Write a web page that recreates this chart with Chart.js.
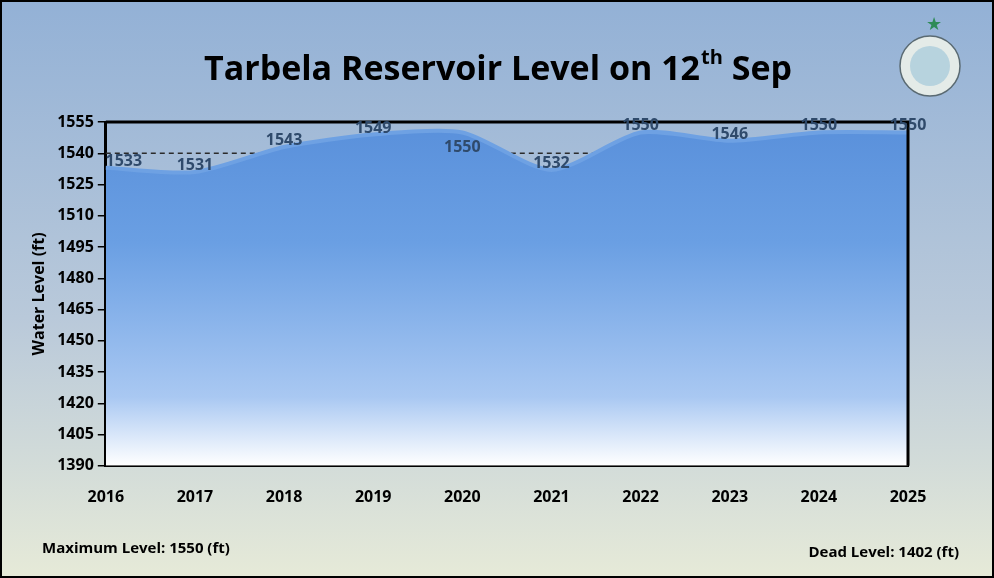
<!DOCTYPE html>
<html>
<head>
<meta charset="utf-8">
<script src="https://cdn.jsdelivr.net/npm/chart.js@4"></script>
<style>
  html, body { margin: 0; padding: 0; }
  #wrap { width: 990px; height: 574px; border: 2px solid #000;
    background: linear-gradient(to bottom, #93b1d6 0%, #b9c9da 55%, #e6ead8 100%); }
</style>
</head>
<body>
<div id="wrap"><canvas id="chart" width="990" height="574"></canvas></div>
<script>
const years = ['2016', '2017', '2018', '2019', '2020', '2021', '2022', '2023', '2024', '2025'];
const levels = [1533, 1531, 1543, 1549, 1550, 1532, 1550, 1546, 1550, 1550];
const labelBelow = [false, false, false, false, true, false, false, false, false, false];

// title, footer notes, frame and point labels
const decorations = {
  id: 'decorations',
  afterDatasetsDraw(chart) {
    const { ctx, chartArea: a } = chart;
    const meta = chart.getDatasetMeta(0);
    ctx.save();
    ctx.strokeStyle = '#000';
    ctx.lineWidth = 3;
    ctx.beginPath();
    ctx.moveTo(a.left, a.top); ctx.lineTo(a.right, a.top); ctx.lineTo(a.right, a.bottom);
    ctx.stroke();

    ctx.font = 'bold 16px "Open Sans", sans-serif';
    ctx.fillStyle = '#2f4a6b';
    ctx.textAlign = 'center';
    meta.data.forEach((pt, i) => {
      const y = labelBelow[i] ? pt.y + 20 : pt.y - 2;
      ctx.fillText(levels[i], pt.x + (i === 0 ? 18 : 0), y);
    });

    ctx.fillStyle = '#000';
    ctx.font = 'bold 34px "Open Sans", sans-serif';
    ctx.fillText('Tarbela Reservoir Level on 12', 450, 78);
    const w = ctx.measureText('Tarbela Reservoir Level on 12').width;
    const x0 = 450 + w / 2;
    ctx.textAlign = 'left';
    ctx.font = 'bold 20px "Open Sans", sans-serif';
    ctx.fillText('th', x0 + 1, 62);
    const tw = ctx.measureText('th').width;
    ctx.font = 'bold 34px "Open Sans", sans-serif';
    ctx.fillText(' Sep', x0 + tw + 1, 78);

    ctx.font = 'bold 15px "Open Sans", sans-serif';
    ctx.fillText('Maximum Level: 1550 (ft)', 40, 551);
    ctx.textAlign = 'right';
    ctx.fillText('Dead Level: 1402 (ft)', 957, 555);

    // simple emblem
    ctx.beginPath();
    ctx.arc(928, 64, 30, 0, Math.PI * 2);
    ctx.fillStyle = '#e4ebe8'; ctx.fill();
    ctx.strokeStyle = '#5a6a72'; ctx.lineWidth = 1.5; ctx.stroke();
    ctx.beginPath();
    ctx.arc(928, 64, 20, 0, Math.PI * 2);
    ctx.fillStyle = '#b7d3de'; ctx.fill();
    ctx.fillStyle = '#2e8b57';
    ctx.font = '18px sans-serif';
    ctx.textAlign = 'center';
    ctx.fillText('★', 932, 28);
    ctx.restore();
  }
};

new Chart(document.getElementById('chart'), {
  type: 'line',
  data: {
    labels: years,
    datasets: [{
      data: levels,
      borderColor: '#6ea1e3',
      borderWidth: 4,
      pointRadius: 0,
      tension: 0.25,
      fill: 'start',
      backgroundColor(context) {
        const a = context.chart.chartArea;
        if (!a) return '#5b95dd';
        const g = context.chart.ctx.createLinearGradient(0, a.top, 0, a.bottom);
        g.addColorStop(0, '#5990db');
        g.addColorStop(0.35, '#6a9fe3');
        g.addColorStop(0.8, '#a9c8f2');
        g.addColorStop(1, '#ffffff');
        return g;
      }
    }]
  },
  options: {
    responsive: false,
    animation: false,
    layout: { padding: { left: 24, right: 84, top: 120, bottom: 55 } },
    plugins: { legend: { display: false }, tooltip: { enabled: false } },
    scales: {
      x: {
        offset: false,
        grid: { display: false, drawTicks: true },
        border: { color: '#000', width: 3 },
        ticks: { color: '#000', font: { size: 16, weight: 'bold', family: '"Open Sans", sans-serif' }, padding: 14 }
      },
      y: {
        min: 1390, max: 1555,
        afterBuildTicks(axis) {
          axis.ticks = [];
          for (let v = 1390; v <= 1555; v += 15) axis.ticks.push({ value: v });
        },
        border: { color: '#000', width: 3 },
        grid: {
          drawOnChartArea: false,
          tickColor: '#000',
          tickLength: 8,
          lineWidth: 1.5
        },
        ticks: { color: '#000', callback: (v) => String(v), font: { size: 16, weight: 'bold', family: '"Open Sans", sans-serif' }, padding: 4 },
        title: { display: true, text: 'Water Level (ft)', color: '#000', font: { size: 16, weight: 'bold', family: '"Open Sans", sans-serif' } }
      }
    }
  },
  plugins: [decorations, {
    id: 'dash',
    beforeDatasetsDraw(chart) {
      // dashed 1540 line behind the area
      const { ctx, chartArea: a, scales } = chart;
      const y = scales.y.getPixelForValue(1540);
      ctx.save();
      ctx.strokeStyle = '#2b2b2b';
      ctx.setLineDash([5, 4]);
      ctx.lineWidth = 1.5;
      ctx.beginPath(); ctx.moveTo(a.left, y); ctx.lineTo(a.right, y); ctx.stroke();
      ctx.restore();
    }
  }]
});
</script>
</body>
</html>
